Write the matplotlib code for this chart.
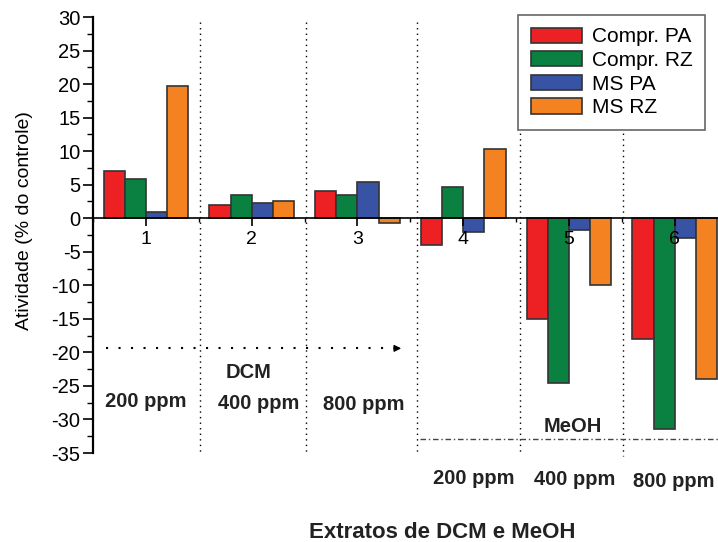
import numpy as np
import matplotlib
matplotlib.use("Agg")
import matplotlib.pyplot as plt
from matplotlib.ticker import MultipleLocator

# activity (% of control) per extract
groups = [1, 2, 3, 4, 5, 6]
compr_pa = [7.0, 1.9, 4.0, -4.0, -15.0, -18.0]
compr_rz = [5.9, 3.5, 3.5, 4.6, -24.5, -31.4]
ms_pa = [1.0, 2.2, 5.4, -2.0, -1.8, -3.0]
ms_rz = [19.7, 2.5, -0.7, 10.3, -10.0, -24.0]
series_names = ["Compr. PA", "Compr. RZ", "MS PA", "MS RZ"]
colors = ["#ED2024", "#0A8140", "#3953A4", "#F58220"]

plt.rcParams["font.family"] = ["Liberation Sans", "DejaVu Sans"]
plt.rcParams["axes.unicode_minus"] = False

fig = plt.figure(figsize=(7.18, 5.42), dpi=100)
ax = fig.add_axes([0.1295, 0.1642, 0.884, 0.8044])
ax.set_axisbelow(False)

x = np.array(groups, dtype=float)
w = 0.2
for i, (vals, name, c) in enumerate(zip([compr_pa, compr_rz, ms_pa, ms_rz], series_names, colors)):
    ax.bar(x + (i - 1.5) * w, vals, w, color=c, edgecolor="#333333",
           linewidth=1.2, label=name, zorder=2)

ax.set_xlim(0.5, 6.5)
ax.set_ylim(-35, 30)

ax.spines["top"].set_visible(False)
ax.spines["right"].set_visible(False)
ax.spines["bottom"].set_position(("data", 0))
ax.spines["left"].set_linewidth(1.6)
ax.spines["bottom"].set_linewidth(1.2)

ax.yaxis.set_major_locator(MultipleLocator(5))
ax.yaxis.set_minor_locator(MultipleLocator(2.5))
ax.set_xticks(groups)
ax.xaxis.set_minor_locator(MultipleLocator(0.5))
ax.tick_params(axis="y", which="major", length=7, width=1.2, labelsize=14.5, pad=2)
ax.tick_params(axis="y", which="minor", length=4, width=1.0)
ax.tick_params(axis="x", which="major", length=6, width=1.2, labelsize=14, pad=3)
ax.tick_params(axis="x", which="minor", length=3, width=1.0)

# dotted separators between groups
sep_x = [1.51, 2.51, 3.56, 4.54, 5.51]
sep_bottom = [-35.3, -35.3, -35.3, -34.8, -35.5]
for xv, yb in zip(sep_x, sep_bottom):
    ax.plot([xv, xv], [29.2, yb], color="black", lw=1.0, ls=(0, (1, 3)), clip_on=False, zorder=1)

# DCM dotted arrow
ax.plot([0.62, 3.36], [-19.4, -19.4], color="black", lw=1.5, ls=(0, (1, 5)), zorder=1)
ax.annotate("", xy=(3.44, -19.4), xytext=(3.34, -19.4),
            arrowprops=dict(arrowstyle="-|>", color="black", lw=1, mutation_scale=10))

# MeOH dash-dot line
ax.plot([3.59, 6.5], [-32.9, -32.9], color="#444444", lw=1.0, ls=(0, (4, 2, 1, 2)), clip_on=False)

bold = dict(fontweight="bold", ha="center", va="center", fontsize=14.5, clip_on=False,
            color="#222222")
ax.text(1.00, -27.3, "200 ppm", **bold)
ax.text(1.97, -23.0, "DCM", **bold)
ax.text(2.07, -27.6, "400 ppm", **bold)
ax.text(3.06, -27.7, "800 ppm", **bold)
ax.text(5.04, -31.1, "MeOH", **bold)
ax.text(4.10, -38.8, "200 ppm", **bold)
ax.text(5.05, -38.9, "400 ppm", **bold)
ax.text(5.99, -39.3, "800 ppm", **bold)

fig.text(25 / 718, 1 - 221 / 542, "Atividade (% do controle)", rotation=90,
         ha="center", va="center", fontsize=14)
fig.text(442.5 / 718, 1 - 532 / 542, "Extratos de DCM e MeOH", ha="center",
         va="center", fontsize=16, fontweight="bold", color="#222222")

leg = ax.legend(loc="upper left", bbox_to_anchor=(518 / 718, 1 - 15 / 542),
                bbox_transform=fig.transFigure, fancybox=False, framealpha=1,
                edgecolor="#666666", fontsize=15, handlelength=2.45, handleheight=0.75,
                labelspacing=0.22, handletextpad=0.5, borderpad=0.6, borderaxespad=0)
leg.get_frame().set_linewidth(1.2)

fig.savefig("out.png", dpi=100)
